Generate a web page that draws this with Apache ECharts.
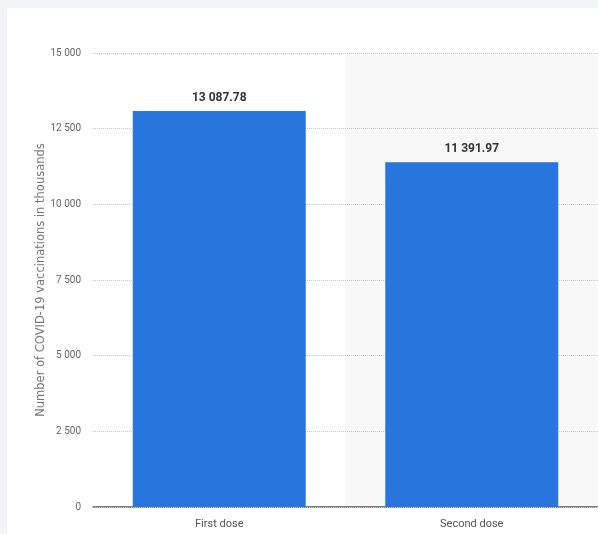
<!DOCTYPE html>
<html>
<head>
<meta charset="utf-8">
<script src="https://cdn.jsdelivr.net/npm/echarts@6/dist/echarts.min.js"></script>
<style>
html,body{margin:0;padding:0;width:598px;height:534px;background:#f2f3f4;overflow:hidden;}
#card{position:absolute;left:7px;top:8px;width:600px;height:540px;background:#fff;}
#chart{width:591px;height:526px;}
</style>
</head>
<body>
<div id="card"><div id="chart"></div></div>
<script>
const categories = ['First dose', 'Second dose'];
const vaccinations = [13087.78, 11391.97];
const yTicks = {min: 0, max: 15000, interval: 2500};

function fmt(v, dec) {
  const s = dec ? v.toFixed(dec) : String(Math.round(v));
  const parts = s.split('.');
  parts[0] = parts[0].replace(/\B(?=(\d{3})+(?!\d))/g, ' ');
  return parts.join('.');
}

const font = '"Liberation Sans Narrow", "Roboto", sans-serif';
const chart = echarts.init(document.getElementById('chart'));
chart.setOption({
  animation: false,
  grid: {left: 86, top: 45, width: 506, bottom: 27, containLabel: false},
  xAxis: {
    type: 'category',
    data: categories,
    z: 0,
    axisLine: {lineStyle: {color: '#555', width: 1.5}},
    axisTick: {show: false},
    axisLabel: {color: '#555', fontSize: 11, fontFamily: font, margin: 12},
    splitArea: {show: true, areaStyle: {color: ['rgba(0,0,0,0)', '#f8f8f8']}}
  },
  yAxis: {
    type: 'value',
    z: 1,
    min: yTicks.min, max: yTicks.max, interval: yTicks.interval,
    name: 'Number of COVID-19 vaccinations in thousands',
    nameLocation: 'middle',
    nameGap: 46,
    nameMoveOverlap: false,
    nameTextStyle: {color: '#777', fontSize: 11.5, fontFamily: '"DejaVu Sans", sans-serif'},
    axisLine: {show: false},
    axisTick: {show: false},
    axisLabel: {color: '#666', fontSize: 10, fontFamily: font, margin: 12, formatter: v => fmt(v)},
    splitLine: {lineStyle: {color: '#c8c8c8', type: 'dotted', width: 1}}
  },
  series: [{
    type: 'bar',
    z: 2,
    data: vaccinations,
    barWidth: '68.5%',
    itemStyle: {color: '#2876dd'},
    label: {
      show: true, position: 'top', distance: 7,
      color: '#333', fontSize: 12, fontWeight: 'bold', fontFamily: font,
      formatter: p => fmt(p.value, 2)
    }
  }]
});
</script>
</body>
</html>
